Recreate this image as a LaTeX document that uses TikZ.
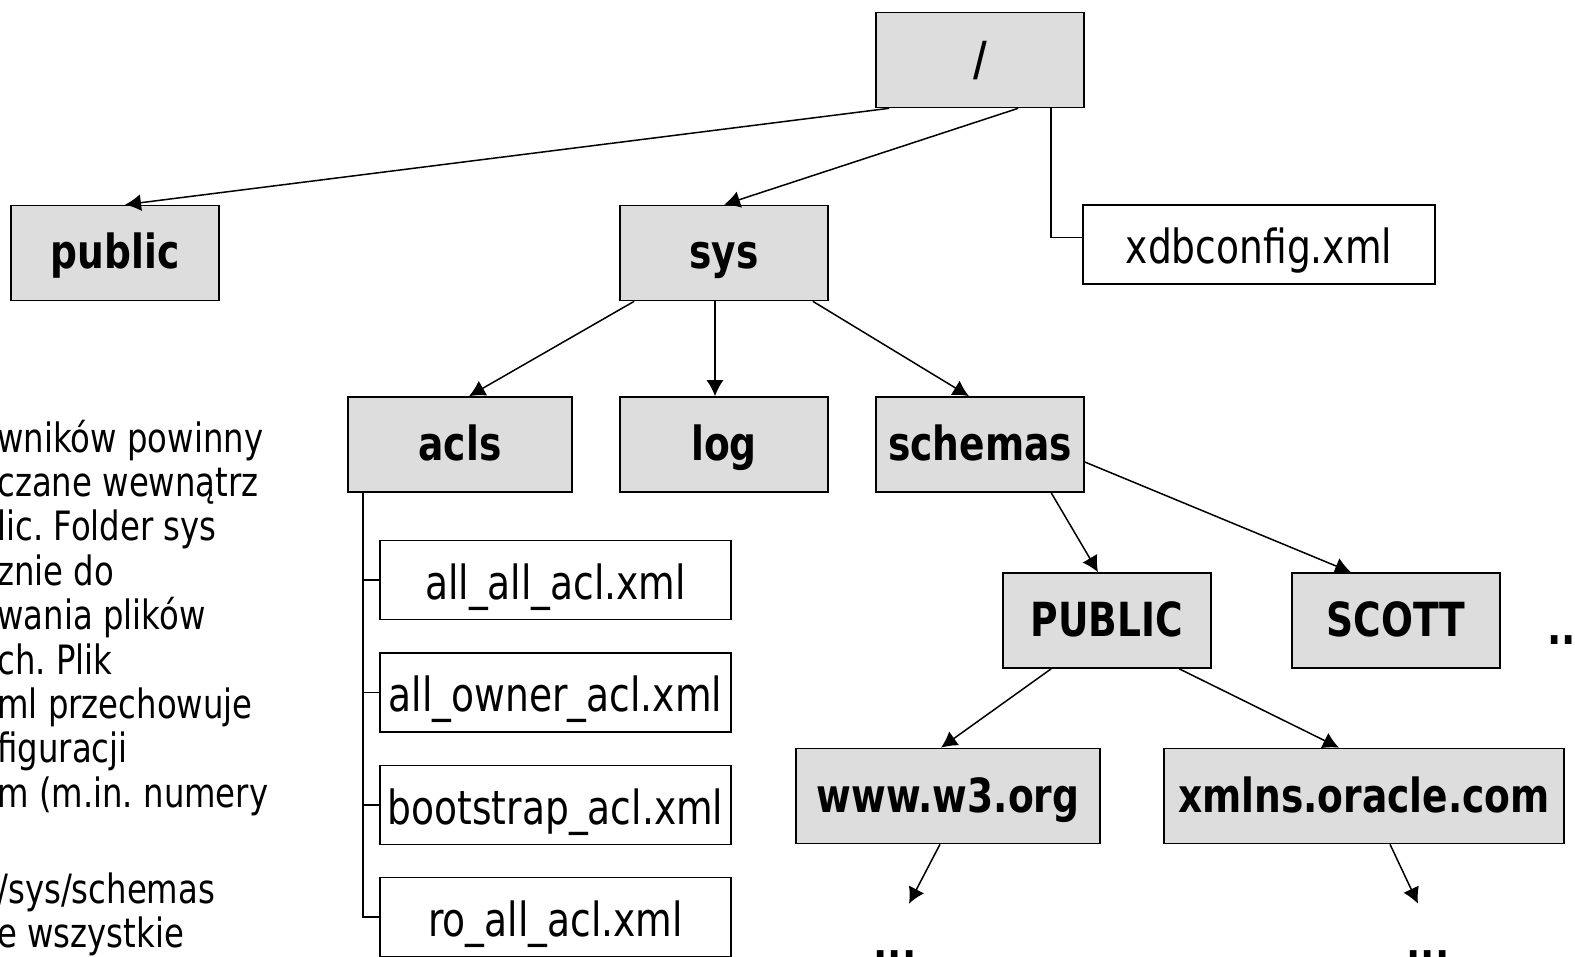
\documentclass[tikz,border=0pt]{standalone}
\usepackage{fontspec}
\setmainfont{DejaVu Sans}[FakeStretch=0.8]
\usetikzlibrary{arrows.meta, calc}
\definecolor{folderfill}{HTML}{DDDDDD}
\newcommand{\rozmiar}{\fontsize{23.5}{26}\selectfont}
\newcommand{\rozmiarnotki}{\fontsize{20.2}{22.2}\selectfont\frenchspacing}
\tikzset{
  folder/.style={draw, line width=0.8pt, fill=folderfill, font=\rozmiar\bfseries,
    minimum width=104pt, minimum height=47.5pt, inner sep=0pt,
    text height=21pt, text depth=5pt},
  plik/.style={draw, line width=0.8pt, fill=white, font=\rozmiar,
    minimum width=175.5pt, minimum height=39.5pt, inner sep=0pt,
    text height=23pt, text depth=4pt},
  notka/.style={anchor=base west, inner sep=0pt, font=\rozmiarnotki},
  kropki/.style={anchor=base, inner sep=0pt, font=\rozmiar\bfseries},
  strz/.style={-{Latex[length=8pt,width=8.5pt]}, line width=0.75pt},
  linia/.style={line width=0.75pt}
}

\begin{document}
\begin{tikzpicture}[x=0.5pt, y=-0.5pt]
\useasboundingbox (0,0) rectangle (1575,957);
\clip (0,0) rectangle (1575,957);

% opis z lewej (obciety)
\node[notka] (note1) at (-3,452) {wników powinny};
\node[notka] (note2) at (-3,496.4) {czane wewnątrz};
\node[notka] (note3) at (-3,540.8) {lic. Folder sys};
\node[notka] (note4) at (-3,585.2) {znie do};
\node[notka] (note5) at (-3,629.6) {wania plików};
\node[notka] (note6) at (-3,674) {ch. Plik};
\node[notka] (note7) at (-3,718.4) {ml przechowuje};
\node[notka] (note8) at (-3,762.8) {figuracji};
\node[notka] (note9) at (-3,807.2) {m (m.in. numery};
\node[notka] (note10) at (-3,903) {/sys/schemas};
\node[notka] (note11) at (-3,947.4) {e wszystkie};

% foldery
\node[folder] (root) at (980,60) {/};
\node[folder] (public) at (115,253) {public};
\node[folder] (sys) at (724,253) {sys};
\node[plik, minimum width=176pt] (xdb) at (1259,244.5) {xdbconfig.xml};
\node[folder, minimum width=112pt] (acls) at (460,444.5) {acls};
\node[folder] (log) at (724,444.5) {log};
\node[folder] (schemas) at (980,444.5) {schemas};
\node[folder] (PUBLIC) at (1107,620.5) {PUBLIC};
\node[folder] (scott) at (1396,620.5) {SCOTT};
\node[folder, minimum width=152pt] (www) at (948,796) {www.w3.org};
\node[folder, minimum width=200pt] (xmlns) at (1364,796) {xmlns.oracle.com};

% pliki acl
\node[plik] (f1) at (555.5,580) {all\_all\_acl.xml};
\node[plik] (f2) at (555.5,692.5) {all\_owner\_acl.xml};
\node[plik] (f3) at (555.5,805) {bootstrap\_acl.xml};
\node[plik] (f4) at (555.5,917) {ro\_all\_acl.xml};

\node[kropki] (sdots) at (1569,644) {...};
\node[kropki] (wdots) at (895,959) {...};
\node[kropki] (xdots) at (1428,959) {...};

% polaczenia
\draw[strz] ($(root.south west)+(14,0)$) -- ($(public.north)+(10,0)$);
\draw[strz] ($(root.south west)+(143,0)$) -- (sys.north);
\draw[linia] ($(root.south west)+(176,0)$) |- ($(xdb.west)+(0,-7)$);

\draw[strz] ($(sys.south west)+(15,0)$) -- ($(acls.north)+(9,0)$);
\draw[strz] ($(sys.south)+(-9,0)$) -- ($(log.north)+(-9,0)$);
\draw[strz] ($(sys.south east)+(-16,0)$) -- ($(schemas.north)+(-11,0)$);

\draw[linia] ($(acls.south west)+(16,0)$) |- (f1.west);
\draw[linia] ($(acls.south west)+(16,0)$) |- (f2.west);
\draw[linia] ($(acls.south west)+(16,0)$) |- (f3.west);
\draw[linia] ($(acls.south west)+(16,0)$) |- (f4.west);

\draw[strz] ($(schemas.south west)+(176,0)$) -- ($(PUBLIC.north)+(-9,0)$);
\draw[strz] ($(schemas.east)+(0,17.5)$) -- ($(scott.north)+(-45,0)$);

\draw[strz] ($(PUBLIC.south west)+(49,0)$) -- ($(www.north)+(-7,0)$);
\draw[strz] ($(PUBLIC.south west)+(177,0)$) -- ($(xmlns.north)+(-25,0)$);

\draw[strz] ($(www.south)+(-8,0)$) -- ($(wdots.north)+(14,-46)$);
\draw[strz] ($(xmlns.south)+(26,0)$) -- ($(xdots.north)+(-10,-46)$);
\end{tikzpicture}
\end{document}
